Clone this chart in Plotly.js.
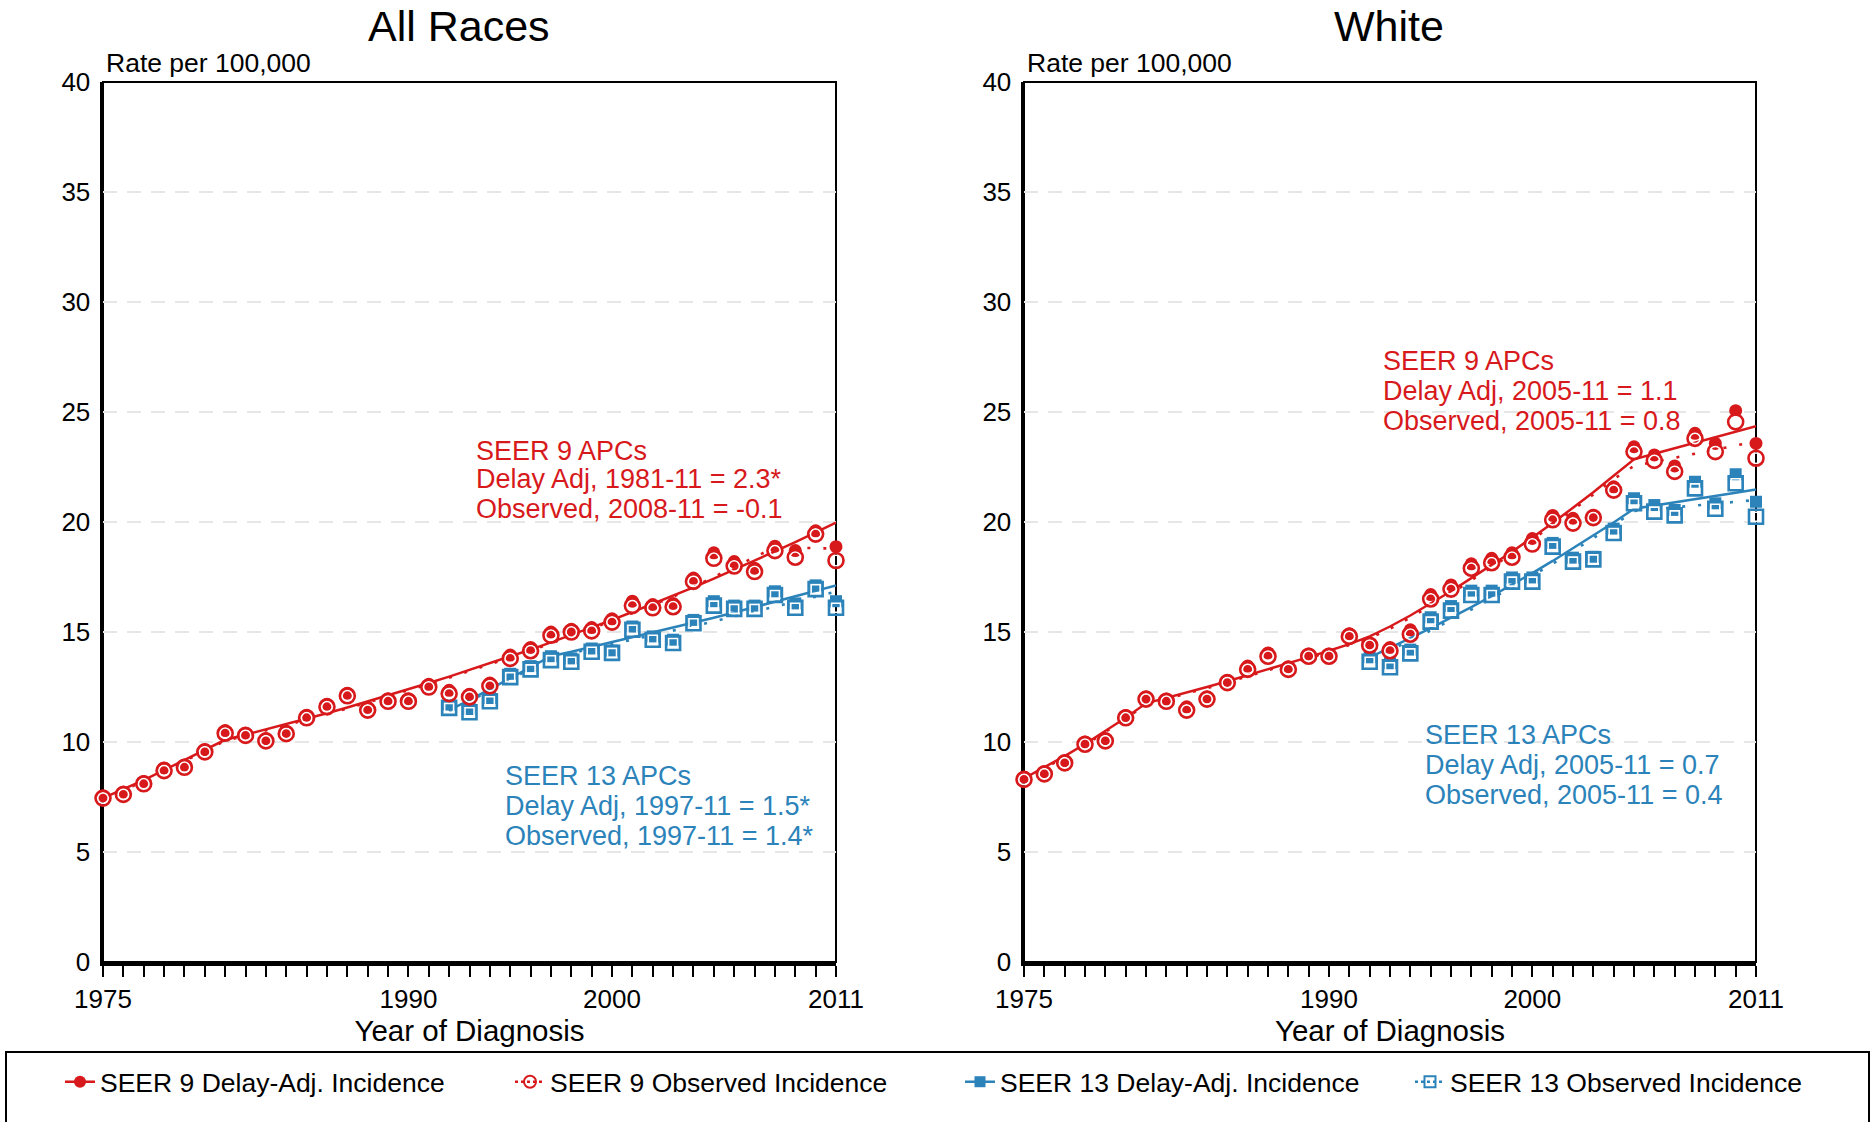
<!DOCTYPE html>
<html>
<head>
<meta charset="utf-8">
<script src="https://cdn.plot.ly/plotly-3.0.1.min.js"></script>
<style>html,body{margin:0;padding:0;background:#fff;}#chart{width:1873px;height:1122px;}</style>
</head>
<body>
<div id="chart"></div>
<script>
// ---------- Data ----------
const years9 = [1975,1976,1977,1978,1979,1980,1981,1982,1983,1984,1985,1986,1987,1988,1989,1990,1991,1992,1993,1994,1995,1996,1997,1998,1999,2000,2001,2002,2003,2004,2005,2006,2007,2008,2009,2010,2011];
const years13 = [1992,1993,1994,1995,1996,1997,1998,1999,2000,2001,2002,2003,2004,2005,2006,2007,2008,2009,2010,2011];

// All Races
const allS9Delay = [7.55,7.72,8.2,8.82,8.95,9.65,10.52,10.4,10.15,10.48,11.22,11.72,12.22,11.57,11.97,11.97,12.62,12.35,12.17,12.68,13.95,14.3,15.0,15.12,15.2,15.6,16.4,16.25,16.3,17.45,18.6,18.2,17.9,18.9,18.7,19.6,18.88];
const allS9Obs   = [7.45,7.62,8.1,8.7,8.85,9.55,10.4,10.3,10.05,10.38,11.1,11.6,12.1,11.45,11.85,11.85,12.5,12.2,12.05,12.55,13.8,14.15,14.85,15.0,15.05,15.45,16.2,16.1,16.15,17.3,18.35,18.0,17.75,18.7,18.4,19.45,18.25];
const allS9DelayFit = [7.45,7.85,8.27,8.72,9.18,9.65,10.1,10.33,10.57,10.81,11.06,11.31,11.57,11.84,12.11,12.39,12.68,12.97,13.27,13.57,13.88,14.2,14.53,14.86,15.2,15.55,15.91,16.28,16.65,17.03,17.43,17.83,18.24,18.66,19.09,19.53,19.97];
const allS9ObsFit   = [7.4,7.8,8.22,8.67,9.13,9.6,10.05,10.28,10.52,10.76,11.01,11.26,11.52,11.79,12.06,12.34,12.63,12.92,13.22,13.52,13.83,14.15,14.48,14.81,15.15,15.5,15.86,16.23,16.6,17.05,17.5,17.95,18.4,18.85,18.83,18.81,18.79];
const allS13Delay = [11.7,11.5,12.0,13.1,13.45,13.9,13.8,14.25,14.15,15.25,14.8,14.65,15.55,16.4,16.2,16.2,16.85,16.3,17.12,16.4];
const allS13Obs   = [11.55,11.35,11.85,12.95,13.3,13.72,13.65,14.1,14.05,15.1,14.65,14.5,15.4,16.2,16.05,16.05,16.68,16.1,16.95,16.1];
const allS13DelayFit = [11.45,11.9,12.4,12.9,13.4,13.9,14.1,14.32,14.53,14.75,14.97,15.2,15.42,15.65,15.89,16.13,16.37,16.61,16.86,17.11];
const allS13ObsFit   = [11.4,11.85,12.33,12.83,13.33,13.85,14.04,14.24,14.44,14.64,14.85,15.06,15.27,15.48,15.7,15.92,16.14,16.37,16.6,16.83];

// White
const whS9Delay = [8.4,8.65,9.15,10.0,10.15,11.2,12.05,11.95,11.6,12.05,12.8,13.45,14.05,13.42,14.0,14.0,14.92,14.5,14.3,15.1,16.7,17.14,18.1,18.35,18.6,19.25,20.3,20.17,20.3,21.6,23.42,23.05,22.55,24.03,23.57,25.06,23.57];
const whS9Obs   = [8.3,8.55,9.05,9.9,10.05,11.1,11.95,11.85,11.45,11.95,12.7,13.3,13.9,13.3,13.9,13.9,14.8,14.4,14.15,14.9,16.5,16.95,17.9,18.15,18.4,19.0,20.1,19.95,20.2,21.45,23.2,22.8,22.3,23.8,23.2,24.55,22.9];
const whS9DelayFit = [8.35,8.84,9.36,9.91,10.5,11.1,11.76,12.0,12.25,12.5,12.76,13.03,13.3,13.58,13.86,14.15,14.45,14.8,15.25,15.75,16.3,16.85,17.45,18.05,18.65,19.3,19.95,20.65,21.35,22.1,22.85,23.1,23.35,23.6,23.85,24.1,24.35];
const whS9ObsFit   = [8.3,8.79,9.31,9.86,10.45,11.05,11.71,11.95,12.2,12.45,12.71,12.98,13.25,13.53,13.81,14.1,14.4,14.72,15.15,15.65,16.2,16.75,17.35,17.95,18.55,19.2,19.85,20.55,21.25,21.95,22.55,22.73,22.91,23.1,23.28,23.47,23.66];
const whS13Delay = [13.85,13.58,14.2,15.67,16.18,16.88,16.88,17.48,17.48,19.05,18.38,18.42,19.7,21.08,20.77,20.55,21.83,20.85,22.17,20.92];
const whS13Obs   = [13.65,13.4,14.03,15.47,15.97,16.68,16.68,17.29,17.29,18.88,18.2,18.3,19.5,20.85,20.47,20.3,21.53,20.6,21.76,20.24];
const whS13DelayFit = [13.85,14.28,14.72,15.18,15.65,16.13,16.63,17.15,17.68,18.23,18.8,19.38,19.98,20.6,20.74,20.89,21.03,21.18,21.33,21.48];
const whS13ObsFit   = [13.75,14.17,14.61,15.07,15.54,16.02,16.52,17.03,17.56,18.1,18.67,19.25,19.85,20.5,20.58,20.66,20.74,20.83,20.91,21.0];

const xTickYears = years9;
const xTickLabels = {1975:'1975',1990:'1990',2000:'2000',2011:'2011'};
const yTicks = [0,5,10,15,20,25,30,35,40];

const panelTitles = ['All Races','White'];
const yTitle = 'Rate per 100,000';
const xTitle = 'Year of Diagnosis';
const legendNames = ['SEER 9 Delay-Adj. Incidence','SEER 9 Observed Incidence','SEER 13 Delay-Adj. Incidence','SEER 13 Observed Incidence'];
const apcLeft9 = ['SEER 9 APCs','Delay Adj, 1981-11 = 2.3*','Observed, 2008-11 = -0.1'];
const apcLeft13 = ['SEER 13 APCs','Delay Adj, 1997-11 = 1.5*','Observed, 1997-11 = 1.4*'];
const apcRight9 = ['SEER 9 APCs','Delay Adj, 2005-11 = 1.1','Observed, 2005-11 = 0.8'];
const apcRight13 = ['SEER 13 APCs','Delay Adj, 2005-11 = 0.7','Observed, 2005-11 = 0.4'];

// ---------- Styles ----------
const RED = '#d7191c';
const BLUE = '#2b83ba';
const WHITE = '#ffffff';
const FONT = 'Liberation Sans, Arial, sans-serif';

function panelTraces(xa, ya, d) {
  const t = [];
  const common = {xaxis: xa, yaxis: ya, showlegend: false, hoverinfo: 'skip', cliponaxis: false};
  // fitted lines
  t.push(Object.assign({x: years9, y: d.s9ObsFit, mode: 'lines', line: {color: RED, width: 2.6, dash: '3px,13px'}}, common));
  t.push(Object.assign({x: years13, y: d.s13ObsFit, mode: 'lines', line: {color: BLUE, width: 2.6, dash: '3px,13px'}}, common));
  t.push(Object.assign({x: years9, y: d.s9DelayFit, mode: 'lines', line: {color: RED, width: 2.5}}, common));
  t.push(Object.assign({x: years13, y: d.s13DelayFit, mode: 'lines', line: {color: BLUE, width: 2.5}}, common));
  // SEER 13 markers
  t.push(Object.assign({x: years13, y: d.s13Delay, mode: 'markers', marker: {symbol: 'square', size: 12, color: BLUE, line: {width: 0}}}, common));
  t.push(Object.assign({x: years13, y: d.s13Obs, mode: 'markers', marker: {symbol: 'square-open', size: 9, color: WHITE, line: {color: WHITE, width: 1.6}}}, common));
  t.push(Object.assign({x: years13, y: d.s13Obs, mode: 'markers', marker: {symbol: 'square-open', size: 14, color: BLUE, line: {color: BLUE, width: 2.6}}}, common));
  // SEER 9 markers
  t.push(Object.assign({x: years9, y: d.s9Delay, mode: 'markers', marker: {symbol: 'circle', size: 13, color: RED, line: {width: 0}}}, common));
  t.push(Object.assign({x: years9, y: d.s9Obs, mode: 'markers', marker: {symbol: 'circle-open', size: 10.5, color: WHITE, line: {color: WHITE, width: 1.6}}}, common));
  t.push(Object.assign({x: years9, y: d.s9Obs, mode: 'markers', marker: {symbol: 'circle-open', size: 15, color: RED, line: {color: RED, width: 2.6}}}, common));
  return t;
}

const traces = [].concat(
  panelTraces('x', 'y', {s9Delay: allS9Delay, s9Obs: allS9Obs, s9DelayFit: allS9DelayFit, s9ObsFit: allS9ObsFit,
                          s13Delay: allS13Delay, s13Obs: allS13Obs, s13DelayFit: allS13DelayFit, s13ObsFit: allS13ObsFit}),
  panelTraces('x2', 'y2', {s9Delay: whS9Delay, s9Obs: whS9Obs, s9DelayFit: whS9DelayFit, s9ObsFit: whS9ObsFit,
                            s13Delay: whS13Delay, s13Obs: whS13Obs, s13DelayFit: whS13DelayFit, s13ObsFit: whS13ObsFit})
);

// legend-only entries
const legendStyles = [
  {line: {color: RED, width: 2.5}, marker: {symbol: 'circle', size: 12, color: RED}},
  {line: {color: RED, width: 2.5, dash: 'dot'}, marker: {symbol: 'circle-open', size: 12, color: RED, line: {color: RED, width: 2}}},
  {line: {color: BLUE, width: 2.5}, marker: {symbol: 'square', size: 11, color: BLUE}},
  {line: {color: BLUE, width: 2.5, dash: 'dot'}, marker: {symbol: 'square-open', size: 11, color: BLUE, line: {color: BLUE, width: 2}}}
];
legendNames.forEach((n, i) => {
  traces.push(Object.assign({x: [null], y: [null], name: n, mode: 'lines+markers', xaxis: 'x', yaxis: 'y', showlegend: true, hoverinfo: 'skip'}, legendStyles[i]));
});

function xAxis(domain, anchor) {
  return {
    domain: domain, anchor: anchor, range: [1975, 2011], fixedrange: true,
    tickmode: 'array', tickvals: xTickYears, ticktext: xTickYears.map(y => xTickLabels[y] || ''),
    ticks: 'outside', ticklen: 11, tickwidth: 2, tickcolor: '#000',
    showline: true, linewidth: 3.5, linecolor: '#000', showgrid: false, zeroline: false,
    tickfont: {family: FONT, size: 26, color: '#000'}, layer: 'below traces',
    title: {text: xTitle, font: {family: FONT, size: 29.5, color: '#000'}, standoff: 0}
  };
}
function yAxis(domain, anchor) {
  return {
    domain: domain, anchor: anchor, range: [0, 40], fixedrange: true,
    tickmode: 'array', tickvals: yTicks, ticks: '', ticklabelstandoff: 4,
    showline: true, linewidth: 3.5, linecolor: '#000', zeroline: false,
    showgrid: true, gridcolor: '#e6e6e6', gridwidth: 2.5, griddash: '14px,10px',
    tickfont: {family: FONT, size: 26, color: '#000'}, layer: 'below traces'
  };
}

const xd1 = [103/1873, 836/1873];
const xd2 = [1024/1873, 1756/1873];
const yd = [160/1122, 1040/1122];

const annotations = [];
function txt(text, x, y, xref, yref, size, color, xanchor) {
  annotations.push({text: text, x: x, y: y, xref: xref, yref: yref, showarrow: false,
    xanchor: xanchor || 'left', yanchor: 'middle', font: {family: FONT, size: size, color: color || '#000'}});
}
// panel titles
txt(panelTitles[0], 459/1873, 1-26/1122, 'paper', 'paper', 43, '#000', 'center');
txt(panelTitles[1], 1389/1873, 1-26/1122, 'paper', 'paper', 43, '#000', 'center');
// y titles
txt(yTitle, 104/1873, 1-63/1122, 'paper', 'paper', 26.5);
txt(yTitle, 1025/1873, 1-63/1122, 'paper', 'paper', 26.5);
// APC annotation blocks
function block(lines, x, ys, xr, yr, color) {
  lines.forEach((l, i) => txt(l, x, ys[i], xr, yr, 27, color));
}
block(apcLeft9, 1993.2, [23.25, 21.95, 20.6], 'x', 'y', RED);
block(apcLeft13, 1994.65, [8.45, 7.1, 5.75], 'x', 'y', BLUE);
block(apcRight9, 1992.55, [27.3, 25.95, 24.6], 'x2', 'y2', RED);
block(apcRight13, 1994.6, [10.3, 8.95, 7.6], 'x2', 'y2', BLUE);

const shapes = [
  {type: 'rect', xref: 'x domain', yref: 'y domain', x0: 0, x1: 1, y0: 0, y1: 1, line: {color: '#000', width: 2}, layer: 'below'},
  {type: 'rect', xref: 'x2 domain', yref: 'y2 domain', x0: 0, x1: 1, y0: 0, y1: 1, line: {color: '#000', width: 2}, layer: 'below'},
  {type: 'rect', xref: 'paper', yref: 'paper', x0: 6/1873, x1: 1869/1873, y0: -0.05, y1: 1-1052/1122, line: {color: '#000', width: 2}, fillcolor: 'rgba(0,0,0,0)'}
];

const layout = {
  width: 1873, height: 1122,
  margin: {l: 0, r: 0, t: 0, b: 0, pad: 0},
  paper_bgcolor: '#fff', plot_bgcolor: '#fff',
  font: {family: FONT, color: '#000'},
  showlegend: true,
  legend: {orientation: 'h', x: 60/1873, xanchor: 'left', y: 1-1082/1122, yanchor: 'middle',
           font: {family: FONT, size: 26.5, color: '#000'}, bgcolor: 'rgba(0,0,0,0)', borderwidth: 0,
           entrywidth: 405, entrywidthmode: 'pixels', itemclick: false, itemdoubleclick: false},
  xaxis: xAxis(xd1, 'y'), yaxis: yAxis(yd, 'x'),
  xaxis2: xAxis(xd2, 'y2'), yaxis2: yAxis(yd, 'x2'),
  annotations: annotations, shapes: shapes
};

Plotly.newPlot('chart', traces, layout, {staticPlot: true, displayModeBar: false});
</script>
</body>
</html>
